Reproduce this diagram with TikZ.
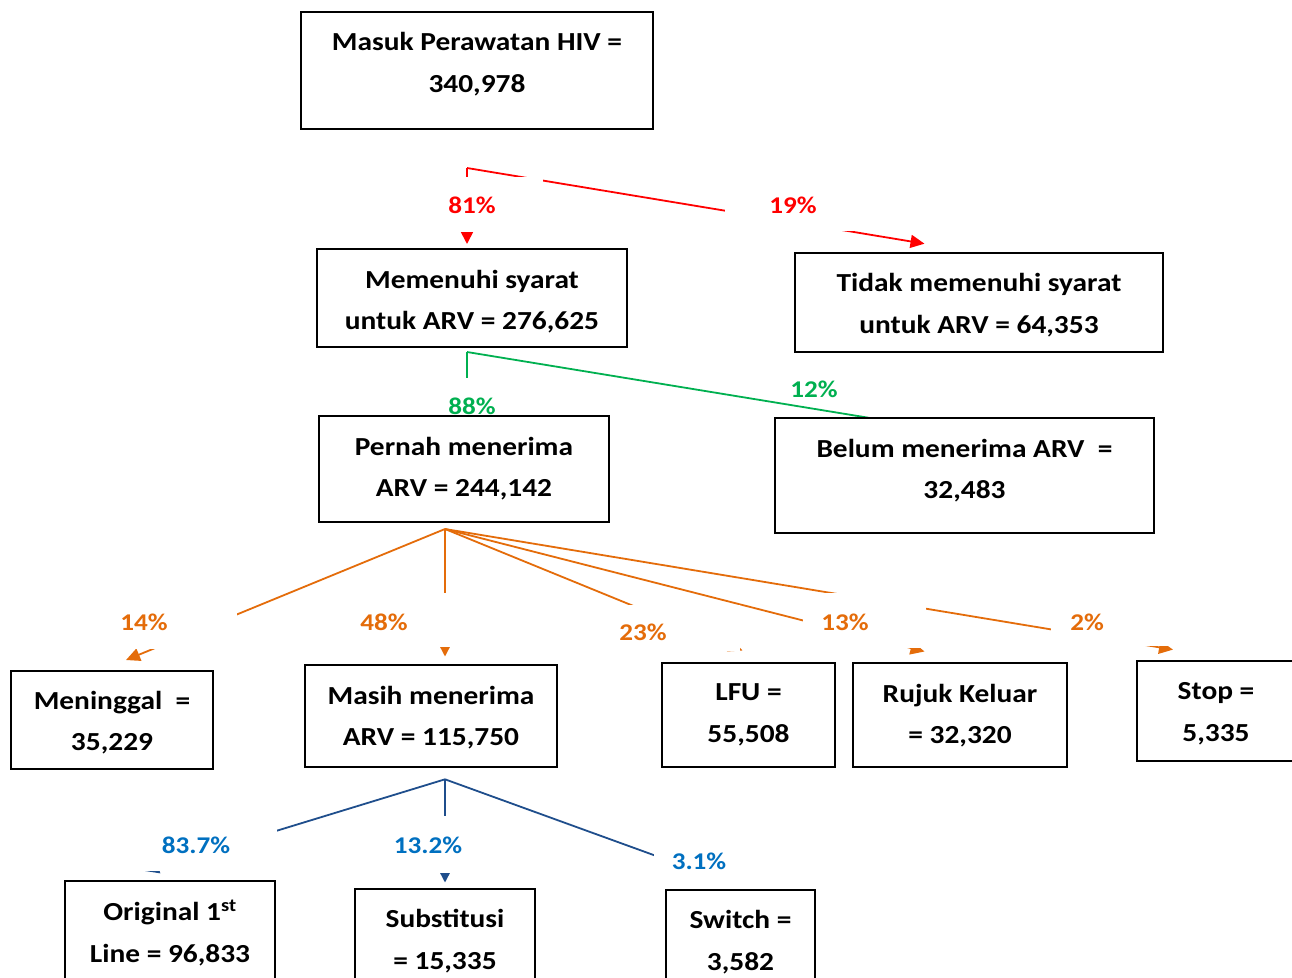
\documentclass[tikz,border=0pt]{standalone}
\usepackage{fontspec}
\setmainfont{Carlito}[FakeStretch=1.13]
\usetikzlibrary{arrows.meta}
\definecolor{cred}{HTML}{FF0000}
\definecolor{cgreen}{HTML}{00B050}
\definecolor{corange}{HTML}{E46C0A}
\definecolor{cblueline}{HTML}{1F4E8C}
\definecolor{cbluetext}{HTML}{0070C0}
\tikzset{
  boxshape/.style={draw=black, line width=1.8pt, fill=white, inner sep=0pt},
  boxtext/.style={font=\bfseries\fontsize{26}{41.5}\selectfont, align=center, inner sep=0pt},
  pct/.style={font=\bfseries\fontsize{24}{28}\selectfont, inner sep=0pt},
  line/.style={line width=1.8pt},
  conn/.style={line width=1.8pt, -{Triangle[length=14pt,width=13pt]}},
  vconn/.style={line width=2pt, -{Triangle[length=14pt,width=14pt]}},
  mask/.style={fill=white, draw=none}
}
\begin{document}
\begin{tikzpicture}[x=1pt,y=-1pt]
\useasboundingbox (0,0) rectangle (1292,977);
\clip (0,0) rectangle (1292,977);
\fill[white] (0,0) rectangle (1292,977);

% connector points
\coordinate (rtop) at (467,168);
\coordinate (rtipB) at (467,244);
\coordinate (rtipC) at (924.5,243.7);
\coordinate (gtop) at (467,352);
\coordinate (gtipD) at (467,417);
\coordinate (gtipE) at (870,418);
\coordinate (otop) at (445,529);
\coordinate (otipF) at (126,660);
\coordinate (otipG) at (445,656.5);
\coordinate (otipH) at (742.5,650.5);
\coordinate (otipI) at (924.5,651.5);
\coordinate (otipJ) at (1173,649.6);
\coordinate (btop) at (445,779.3);
\coordinate (btipK) at (145,871);
\coordinate (btipL) at (445,882.5);
\coordinate (btipM) at (750,890);

% connectors
\draw[vconn, cred] (rtop) -- (rtipB);
\draw[conn, cred] (rtop) -- (rtipC);
\draw[vconn, cgreen] (gtop) -- (gtipD);
\draw[line, cgreen] (gtop) -- (gtipE);
\draw[conn, corange] (otop) -- (otipF);
\draw[vconn, corange] (otop) -- (otipG);
\draw[conn, corange] (otop) -- (otipH);
\draw[conn, corange] (otop) -- (otipI);
\draw[conn, corange] (otop) -- (otipJ);
\draw[conn, cblueline] (btop) -- (btipK);
\draw[vconn, cblueline] (btop) -- (btipL);
\draw[conn, cblueline] (btop) -- (btipM);

% white label backgrounds
\fill[mask] (400,177) rectangle (543,232);
\fill[mask] (725,178) rectangle (870,230.5);
\fill[mask] (405,377.5) rectangle (540,417);
\fill[mask] (60,595) rectangle (237,649);
\fill[mask] (330,593) rectangle (470,647);
\fill[mask] (595,605) rectangle (740,651);
\fill[mask] (803,593) rectangle (926,648);
\fill[mask] (1051,600) rectangle (1190,646);
\fill[mask] (110,805) rectangle (277.4,870.5);
\fill[mask] (370,816) rectangle (490,873);
\fill[mask] (653.5,835) rectangle (770,889);

% labels
\node[pct, text=cred] (l81) at (472,205) {81\%};
\node[pct, text=cred] (l19) at (793,205) {19\%};
\node[pct, text=cgreen] (l88) at (472,406) {88\%};
\node[pct, text=cgreen] (l12) at (814,389) {12\%};
\node[pct, text=corange] (l14) at (144,622) {14\%};
\node[pct, text=corange] (l48) at (384,622) {48\%};
\node[pct, text=corange] (l23) at (643,632) {23\%};
\node[pct, text=corange] (l13) at (845,622) {13\%};
\node[pct, text=corange] (l2) at (1087,622) {2\%};
\node[pct, text=cbluetext] (l837) at (196,845) {83.7\%};
\node[pct, text=cbluetext] (l132) at (428,845) {13.2\%};
\node[pct, text=cbluetext] (l31) at (699,861) {3.1\%};

% boxes
\node[boxshape, minimum width=352pt, minimum height=117pt] (A) at (477,70.5) {};
\node[boxtext] (At) at (477,64) {Masuk Perawatan HIV =\\340,978};
\node[boxshape, minimum width=310pt, minimum height=98pt] (B) at (472,298) {};
\node[boxtext] (Bt) at (472,301.5) {Memenuhi syarat\\untuk ARV = 276,625};
\node[boxshape, minimum width=368pt, minimum height=99pt] (C) at (979,302.5) {};
\node[boxtext] (Ct) at (979,305) {Tidak memenuhi syarat\\untuk ARV = 64,353};
\node[boxshape, minimum width=290pt, minimum height=106pt] (D) at (464,469) {};
\node[boxtext] (Dt) at (464,468.5) {Pernah menerima\\ARV = 244,142};
\node[boxshape, minimum width=379pt, minimum height=115pt] (E) at (964.5,475.5) {};
\node[boxtext] (Et) at (964.5,470.5) {Belum menerima ARV~~=\\32,483};
\node[boxshape, minimum width=202pt, minimum height=98pt] (F) at (112,720) {};
\node[boxtext] (Ft) at (112,722.5) {Meninggal~~=\\35,229};
\node[boxshape, minimum width=252pt, minimum height=102pt] (G) at (431,716) {};
\node[boxtext] (Gt) at (431,717.5) {Masih menerima\\ARV = 115,750};
\node[boxshape, minimum width=173pt, minimum height=104pt] (H) at (748.5,715) {};
\node[boxtext] (Ht) at (748.5,715) {LFU =\\55,508};
\node[boxshape, minimum width=214pt, minimum height=104pt] (I) at (960,715) {};
\node[boxtext] (It) at (960,715.5) {Rujuk Keluar\\= 32,320};
\node[boxshape, minimum width=158pt, minimum height=100pt] (J) at (1216,711) {};
\node[boxtext] (Jt) at (1216,713.5) {Stop =\\5,335};
\node[boxshape, minimum width=210pt, minimum height=102pt] (K) at (170,932) {};
\node[boxtext] (Kt) at (170,933) {Original 1\textsuperscript{st}\\Line = 96,833};
\node[boxshape, minimum width=180pt, minimum height=102pt] (L) at (445,940) {};
\node[boxtext] (Lt) at (445,941) {Substitusi\\= 15,335};
\node[boxshape, minimum width=149pt, minimum height=102pt] (M) at (740.5,941) {};
\node[boxtext] (Mt) at (740.5,942) {Switch =\\3,582};
\end{tikzpicture}
\end{document}
